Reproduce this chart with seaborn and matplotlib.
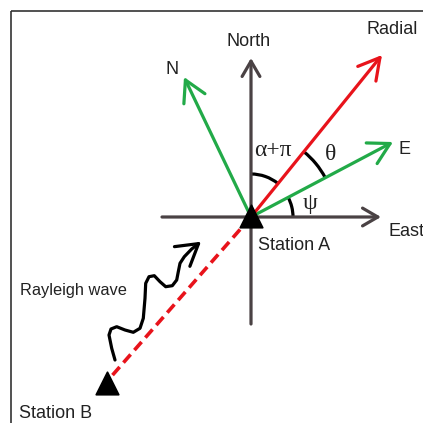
import numpy as np
import pandas as pd
import matplotlib
matplotlib.use("Agg")
import matplotlib.pyplot as plt
import seaborn as sns
from matplotlib.patches import Arc, Rectangle, FancyArrowPatch
from matplotlib.path import Path

# diagram geometry in image pixels (y grows downward)
origin = (251, 217)
north_axis = [(251, 324), (251, 58)]
east_axis = [(162, 217), (381, 217)]
vec_names = ["N", "E", "Radial"]
vec_tips = [(184, 77), (393, 142), (382, 55)]
vec_colors = ["#22aa48", "#22aa48", "#e8131b"]
station_names = ["Station A", "Station B"]
station_x = [251, 106.5]
station_y = [216.5, 383.5]
path_to_b = [(251, 217), (110, 378)]
wave_x = [115, 111.7, 109, 111, 116.7, 125, 133.3, 140, 143.3, 145, 145.7, 149,
          154.3, 160, 165.7, 172.3, 176.7, 178.3, 180, 184.3, 191.7, 201]
wave_y = [360, 348.3, 335, 329, 326.7, 330, 332.3, 328.3, 318.3, 298.3, 283.3, 276.7,
          275.7, 281.7, 286.7, 285.7, 280, 271.7, 263.3, 256.7, 249, 241.7]
# arcs: (label, radius, start angle, end angle) angles counterclockwise from east
arc_labels = ["α+π", "θ", "ψ"]
arc_radius = [43, 84, 42]
arc_from = [51, 28, 0]
arc_to = [90, 51, 28]

gray = "#4a4244"
sns.set_style("white")
plt.rcParams["font.family"] = ["Liberation Sans", "DejaVu Sans"]

fig = plt.figure(figsize=(4.23, 4.23), dpi=100)
ax = fig.add_axes([0, 0, 1, 1])
ax.set_xlim(0, 423)
ax.set_ylim(423, 0)
ax.axis("off")

ax.add_patch(Rectangle((11, 11), 430, 430, fill=False, lw=1.2, ec="#333333"))

# compass axes
for a in [north_axis, east_axis]:
    ax.annotate("", xy=a[1], xytext=a[0],
                arrowprops=dict(arrowstyle="->,head_length=0.55,head_width=0.32",
                                lw=2.3, color=gray, mutation_scale=20,
                                shrinkA=0, shrinkB=0))

# dashed great-circle path to station B
df_path = pd.DataFrame(path_to_b, columns=["x", "y"])
sns.lineplot(data=df_path, x="x", y="y", ax=ax, color="#e8131b", lw=2.6,
             dashes=False, sort=False, linestyle=(0, (3, 1.6)))

# component vectors
for tip, c in zip(vec_tips, vec_colors):
    ax.annotate("", xy=tip, xytext=origin,
                arrowprops=dict(arrowstyle="->,head_length=0.75,head_width=0.42",
                                lw=2.3, color=c, mutation_scale=20,
                                shrinkA=0, shrinkB=0))

# angle arcs
for lab, r, a0, a1 in zip(arc_labels, arc_radius, arc_from, arc_to):
    ax.add_patch(Arc(origin, 2 * r, 2 * r, theta1=-a1, theta2=-a0,
                     lw=2.3, color="black"))

# stations
sns.scatterplot(x=station_x, y=station_y, marker="^", s=260, color="black",
                edgecolor="black", ax=ax, zorder=5, legend=False)

# rayleigh wave
wave = FancyArrowPatch(path=Path(list(zip(wave_x, wave_y))),
                       arrowstyle="->,head_length=0.75,head_width=0.45",
                       mutation_scale=20, lw=2.3, color="black",
                       joinstyle="round", capstyle="round")
ax.add_patch(wave)

fs = 13
ax.text(249, 42, "North", ha="center", va="center", fontsize=fs, color="#222222")
ax.text(392, 29, "Radial", ha="center", va="center", fontsize=fs, color="#222222")
ax.text(172, 70, "N", ha="center", va="center", fontsize=fs, color="#222222")
ax.text(405, 150, "E", ha="center", va="center", fontsize=fs, color="#222222")
ax.text(389, 231, "East", ha="left", va="center", fontsize=fs, color="#222222")
ax.text(258, 245, "Station A", ha="left", va="center", fontsize=fs, color="#222222")
ax.text(19, 413, "Station B", ha="left", va="center", fontsize=fs, color="#222222")
ax.text(20, 290, "Rayleigh wave", ha="left", va="center", fontsize=11.8, color="#222222")

gk = dict(fontsize=17, color="#222222", family=["Liberation Serif", "DejaVu Serif"],
          va="center")
ax.text(254, 150, arc_labels[0], ha="left", **gk)
ax.text(331, 155, arc_labels[1], ha="center", **gk)
ax.text(310, 203, arc_labels[2], ha="center", **gk)

fig.savefig("out.png", dpi=100)
